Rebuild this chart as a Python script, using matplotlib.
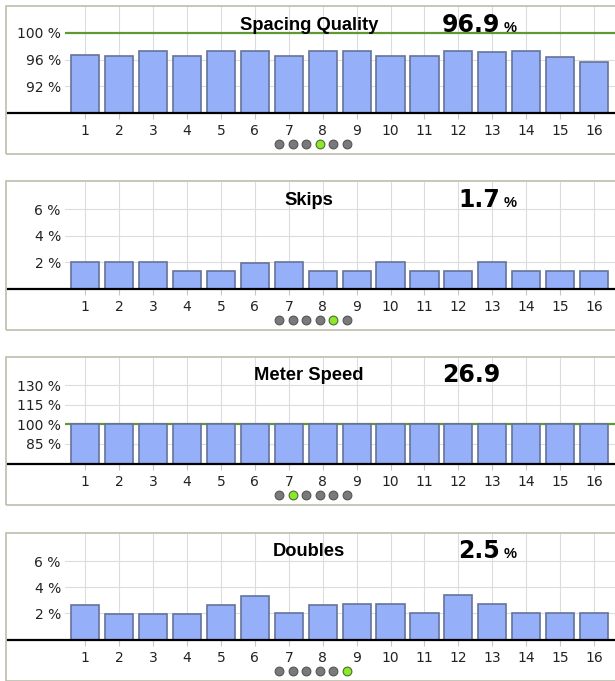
import matplotlib
matplotlib.use("Agg")
import matplotlib.pyplot as plt
from matplotlib.patches import Rectangle
from matplotlib.lines import Line2D

# row numbers on the x axis
rows = [1, 2, 3, 4, 5, 6, 7, 8, 9, 10, 11, 12, 13, 14, 15, 16]

# values per row
spacing_quality = [96.6, 96.5, 97.2, 96.5, 97.2, 97.2, 96.5, 97.2, 97.2, 96.5, 96.5, 97.2, 97.1, 97.2, 96.4, 95.7]
skips = [2.0, 2.0, 2.0, 1.33, 1.33, 1.9, 2.0, 1.33, 1.33, 2.0, 1.33, 1.33, 2.0, 1.33, 1.33, 1.33]
meter_speed = [100, 100, 100, 100, 100, 100, 100, 100, 100, 100, 100, 100, 100, 100, 100, 100]
doubles = [2.67, 1.97, 1.97, 1.97, 2.67, 3.36, 2.05, 2.67, 2.74, 2.74, 2.05, 3.44, 2.74, 2.05, 2.05, 2.05]

titles = ["Spacing Quality", "Skips", "Meter Speed", "Doubles"]
summary = ["96.9", "1.7", "26.9", "2.5"]
summary_unit = ["%", "%", "", "%"]
y_ticks = [[92, 96, 100], [2, 4, 6], [85, 100, 115, 130], [2, 4, 6]]
y_limits = [(88, 104), (0, 8.1), (70, 152), (0, 8.2)]
targets = [100, None, 100, None]
active_dot = [3, 4, 1, 5]
series = [spacing_quality, skips, meter_speed, doubles]

W, H = 615, 681
fig = plt.figure(figsize=(W / 100, H / 100), dpi=100)

def fx(px):
    return px / W

def fy(py):
    return 1 - py / H

panel_tops = [6, 181.5, 356.5, 532.5]
box_h = 148
ax_h = 107
ax_left = 65

bar_color = "#95aff8"
bar_edge = "#66739a"
grid_color = "#dcdcdc"
green = "#5e9a31"

for i, top in enumerate(panel_tops):
    # panel frame
    fig.patches.append(Rectangle((fx(6), fy(top + box_h)), fx(W), box_h / H,
                                 transform=fig.transFigure, fill=False,
                                 edgecolor="#bdbdad", linewidth=1.2))

    ax = fig.add_axes([fx(ax_left), fy(top + ax_h), 1 - fx(ax_left), ax_h / H])
    ax.set_xlim(0.4, 16.62)
    ax.set_ylim(*y_limits[i])
    ax.set_xticks(rows)
    ax.set_xticklabels([str(r) for r in rows])
    ax.set_yticks(y_ticks[i])
    ax.set_yticklabels([f"{t} %" for t in y_ticks[i]])
    ax.tick_params(labelsize=10, labelcolor="#222222")
    ax.tick_params(axis="x", length=4, width=0.8, color="#c8c8c8", pad=4)
    ax.tick_params(axis="y", length=0, pad=3)
    for s in ax.spines.values():
        s.set_visible(False)
    ax.grid(True, color=grid_color, linewidth=0.8)
    ax.set_axisbelow(True)

    if targets[i] is not None:
        ax.axhline(targets[i], color=green, linewidth=1.6, zorder=1.5)

    ax.bar(rows, series[i], width=0.83, color=bar_color, edgecolor=bar_edge,
           linewidth=1.2, zorder=2)

    # baseline reaching the frame
    fig.add_artist(Line2D([fx(8), 1], [fy(top + ax_h), fy(top + ax_h)],
                          color="black", linewidth=1.6))

    # title and summary value
    fig.text(fx(309), fy(top + 23.5), titles[i], ha="center", va="baseline",
             fontsize=13.2, fontweight="bold", family="Liberation Sans")
    fig.text(fx(500), fy(top + 25.5), summary[i], ha="right", va="baseline",
             fontsize=17, fontweight="bold", family="DejaVu Sans")
    if summary_unit[i]:
        fig.text(fx(504), fy(top + 25.5), summary_unit[i], ha="left",
                 va="baseline", fontsize=10.5, fontweight="bold",
                 family="Liberation Sans")

    # page indicator dots
    for k in range(6):
        on = k == active_dot[i]
        fig.add_artist(Line2D([fx(279 + k * 13.6)], [fy(top + 138)], marker="o",
                              markersize=6.3,
                              markerfacecolor="#8be82a" if on else "#7a7a7a",
                              markeredgecolor="#4f6a35" if on else "#555555",
                              markeredgewidth=0.8, linestyle="none"))

fig.savefig("out.png", dpi=100)
